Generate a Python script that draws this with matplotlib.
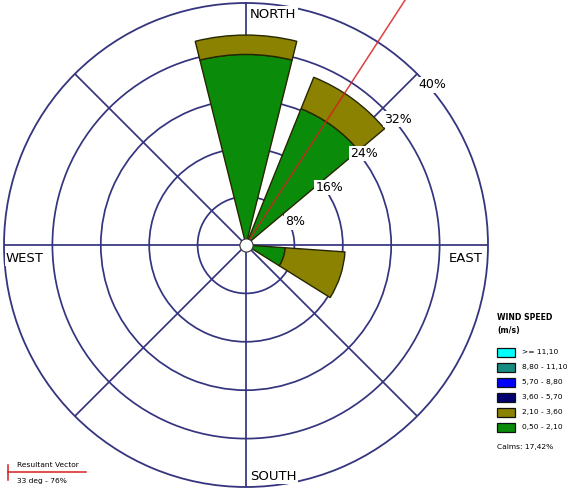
import numpy as np
import matplotlib
matplotlib.use("Agg")
import matplotlib.pyplot as plt
from matplotlib.patches import Rectangle
from matplotlib.lines import Line2D

# wind directions (deg, clockwise from north) that have any data
directions = [0, 36, 108]
sector_width = 28

speed_labels = [">= 11,10", "8,80 - 11,10", "5,70 - 8,80", "3,60 - 5,70", "2,10 - 3,60", "0,50 - 2,10"]
speed_colors = ["#00ffff", "#178c82", "#0000ff", "#00006e", "#8a8200", "#0a8c0a"]

# frequency (%) per direction, lowest speed class first
freq_050_210 = [31.5, 24.3, 6.5]
freq_210_360 = [3.2, 5.6, 9.9]
freq_360_570 = [0, 0, 0]
freq_570_880 = [0, 0, 0]
freq_880_1110 = [0, 0, 0]
freq_1110_up = [0, 0, 0]

ring_values = [8, 16, 24, 32, 40]
calms = "17,42%"
resultant_dir = 33
resultant_pct = 76

W, H = 572, 491
GRID = "#34347f"


def fx(px):
    return px / W


def fy(py):
    return 1 - py / H


fig = plt.figure(figsize=(W / 100, H / 100), dpi=100)
fig.patch.set_facecolor("white")
ax = fig.add_axes([fx(4), 4 / H, 484 / W, 484 / H], projection="polar")
ax.set_theta_zero_location("N")
ax.set_theta_direction(-1)
ax.set_ylim(0, 40)
ax.set_thetagrids(range(0, 360, 45), labels=[""] * 8)
ax.set_rgrids(ring_values[:-1], labels=[""] * 4)
ax.grid(True, color=GRID, lw=1.25)
ax.spines["polar"].set_color(GRID)
ax.spines["polar"].set_linewidth(1.3)

# stacked petals
theta = np.deg2rad(directions)
stack = [freq_050_210, freq_210_360, freq_360_570, freq_570_880, freq_880_1110, freq_1110_up]
colors_low_first = speed_colors[::-1]
bottom = np.zeros(len(directions))
for vals, col in zip(stack, colors_low_first):
    vals = np.array(vals, dtype=float)
    mask = vals > 0
    if mask.any():
        ax.bar(theta[mask], vals[mask], width=np.deg2rad(sector_width), bottom=bottom[mask],
               color=col, edgecolor="#262600", linewidth=1.0, zorder=3)
    bottom += vals

# resultant vector
ax.plot([np.deg2rad(resultant_dir)] * 2, [0, resultant_pct], color="#d42020", lw=1.1,
        alpha=0.85, zorder=4, clip_on=False)

# calm circle at the centre
ax.scatter([0], [0], s=90, facecolor="white", edgecolor="#333333", linewidths=0.8, zorder=5)

# ring labels
for r in ring_values:
    ax.annotate(f"{r}%", xy=(np.deg2rad(45), r), xytext=(15, -11), textcoords="offset pixels",
                ha="center", va="center", fontsize=9, zorder=6,
                bbox=dict(boxstyle="square,pad=0.1", fc="white", ec="none"),
                annotation_clip=False)

# compass labels
compass = [("NORTH", 273, 14), ("WEST", 25, 258), ("EAST", 466, 258), ("SOUTH", 273, 476)]
for name, px, py in compass:
    fig.text(fx(px), fy(py), name, ha="center", va="center", fontsize=9.5, zorder=6,
             bbox=dict(boxstyle="square,pad=0.1", fc="white", ec="none"))

# speed legend
fig.text(fx(497), fy(318), "WIND SPEED", fontsize=5.6, fontweight="bold", va="center")
fig.text(fx(497), fy(331), "(m/s)", fontsize=5.6, fontweight="bold", va="center")
for i, (lab, col) in enumerate(zip(speed_labels, speed_colors)):
    yc = 352 + i * 15
    fig.add_artist(Rectangle((fx(497), fy(yc + 4.5)), 18 / W, 9 / H, transform=fig.transFigure,
                             facecolor=col, edgecolor="#111111", linewidth=0.9))
    fig.text(fx(522), fy(yc), lab, fontsize=5.4, va="center")
fig.text(fx(497), fy(447), f"Calms: {calms}", fontsize=5.4, va="center")

# resultant vector legend
fig.add_artist(Line2D([fx(8), fx(86)], [fy(472), fy(472)], transform=fig.transFigure,
                      color="#d42020", lw=1.1))
fig.add_artist(Line2D([fx(8), fx(8)], [fy(465), fy(480)], transform=fig.transFigure,
                      color="#d42020", lw=1.1))
fig.text(fx(17), fy(465), "Resultant Vector", fontsize=5.4, va="center")
fig.text(fx(17), fy(481), f"{resultant_dir} deg - {resultant_pct}%", fontsize=5.4, va="center")

fig.savefig("out.png", dpi=100, facecolor="white")
